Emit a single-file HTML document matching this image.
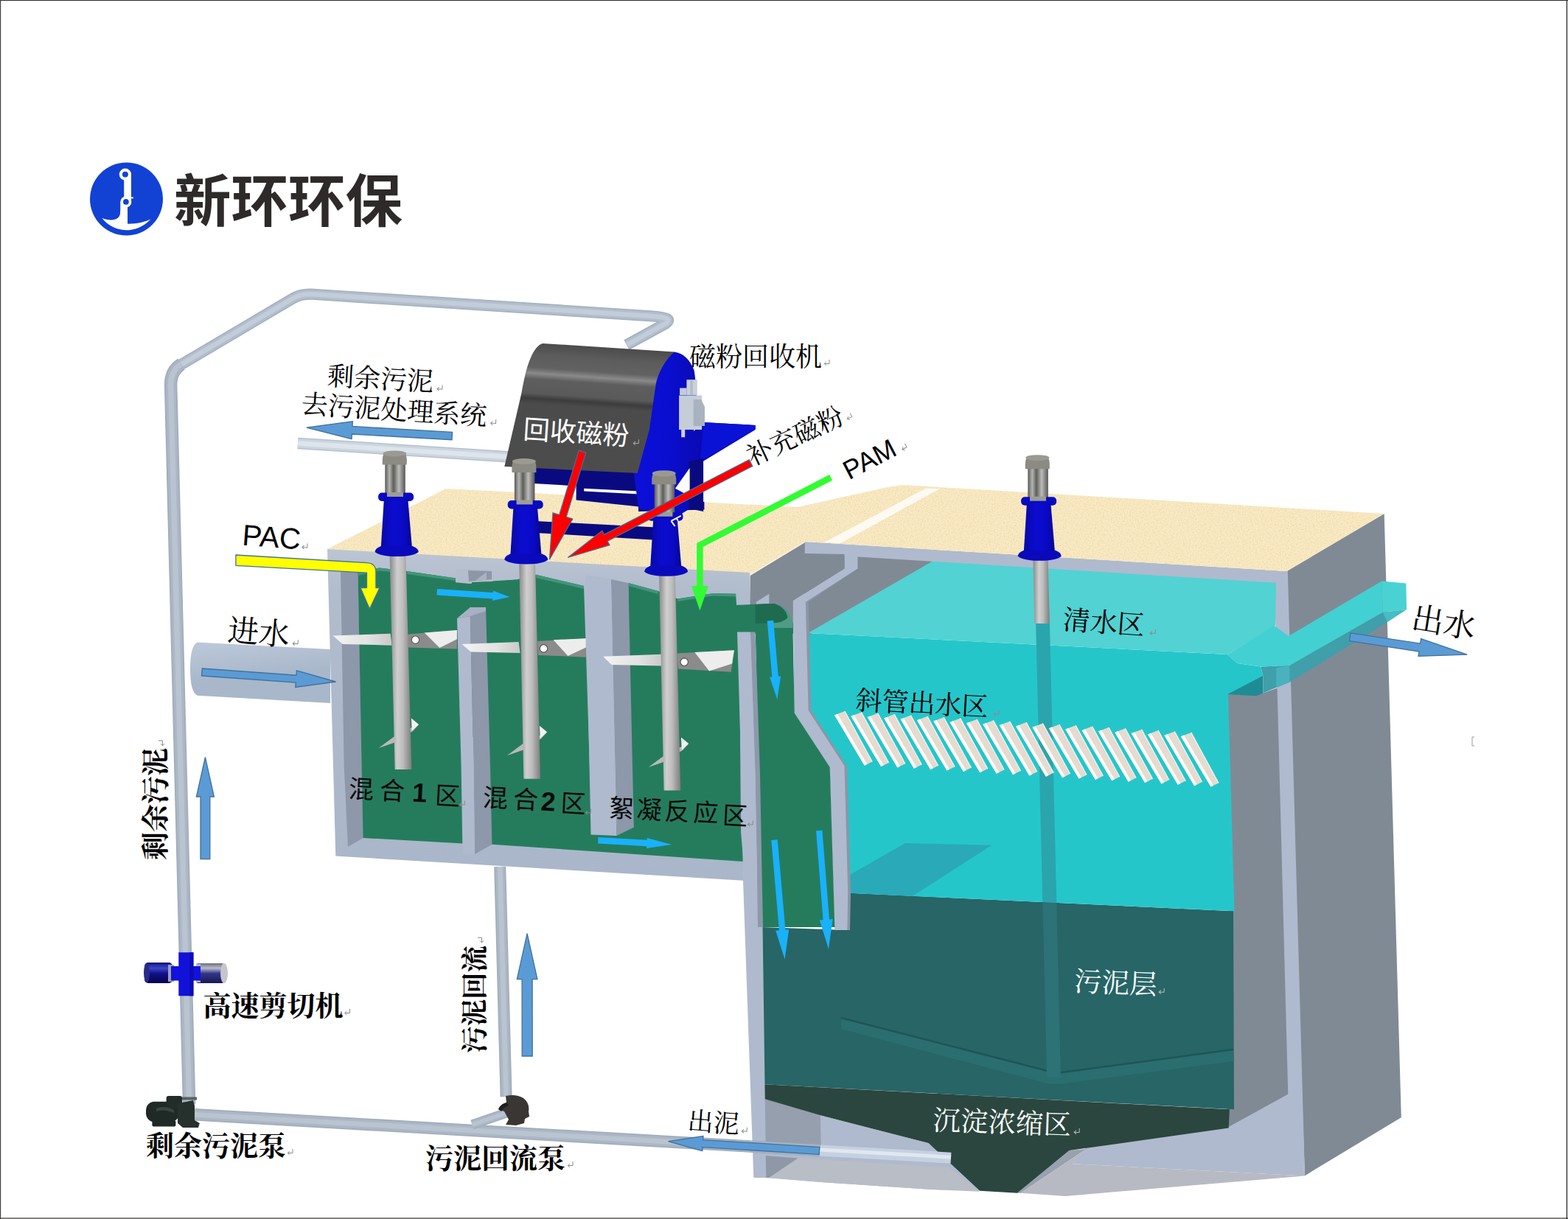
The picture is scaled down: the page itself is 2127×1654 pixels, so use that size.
<!DOCTYPE html>
<html><head><meta charset="utf-8"><title>diagram</title>
<style>html,body{margin:0;padding:0;background:#fff;}body{width:2127px;height:1654px;overflow:hidden;font-family:"Liberation Sans",sans-serif;}svg{display:block;}</style>
</head><body>
<svg xmlns="http://www.w3.org/2000/svg" width="2127" height="1654" viewBox="0 0 2127 1654">
<defs><linearGradient id="gInlet" gradientUnits="userSpaceOnUse" x1="0" y1="872" x2="8" y2="952"><stop offset="0" stop-color="#c8d2df"/><stop offset="0.4" stop-color="#bac7d8"/><stop offset="1" stop-color="#a8b7ca"/></linearGradient>
<linearGradient id="gSand" gradientUnits="userSpaceOnUse" x1="0" y1="655" x2="40" y2="790"><stop offset="0" stop-color="#fdf8e8"/><stop offset="0.35" stop-color="#faf0d4"/><stop offset="1" stop-color="#f8eac6"/></linearGradient>
<filter id="fNoise" x="0" y="0" width="100%" height="100%" color-interpolation-filters="sRGB"><feTurbulence type="fractalNoise" baseFrequency="0.55" numOctaves="2" seed="4" result="t"/><feColorMatrix in="t" type="matrix" values="0 0 0 0 0.93  0 0 0 0 0.80  0 0 0 0 0.52  0 0 0 1.5 -0.68"/><feComposite operator="in" in2="SourceGraphic"/></filter>
<linearGradient id="gBody" gradientUnits="userSpaceOnUse" x1="0" y1="745" x2="0" y2="1190"><stop offset="0" stop-color="#bcc5d3"/><stop offset="0.12" stop-color="#b1bccd"/><stop offset="1" stop-color="#aab6c9"/></linearGradient>
<linearGradient id="gBlade" gradientUnits="objectBoundingBox" x1="0" y1="0" x2="1" y2="0"><stop offset="0" stop-color="#f4f4f4"/><stop offset="0.6" stop-color="#e2e2e2"/><stop offset="1" stop-color="#c9c9c9"/></linearGradient>
<linearGradient id="gDisc" gradientUnits="userSpaceOnUse" x1="860" y1="0" x2="950" y2="0"><stop offset="0" stop-color="#0c10d8"/><stop offset="0.5" stop-color="#0a0ed0"/><stop offset="1" stop-color="#0a0ab4"/></linearGradient>
<linearGradient id="gDrum" gradientUnits="userSpaceOnUse" x1="760" y1="466" x2="748" y2="640"><stop offset="0" stop-color="#4a4a4a"/><stop offset="0.1" stop-color="#5c5c5c"/><stop offset="0.2" stop-color="#626262"/><stop offset="0.245" stop-color="#8a8a8a"/><stop offset="0.29" stop-color="#5e5e5e"/><stop offset="0.4" stop-color="#5a5a5a"/><stop offset="0.44" stop-color="#3c3c3c"/><stop offset="0.48" stop-color="#4b4b4b"/><stop offset="1" stop-color="#4c4c4c"/></linearGradient>
<linearGradient id="gShaft" gradientUnits="objectBoundingBox" x1="0" y1="0" x2="1" y2="0"><stop offset="0" stop-color="#8a8a8a"/><stop offset="0.35" stop-color="#cfcfcf"/><stop offset="0.6" stop-color="#bdbdbd"/><stop offset="1" stop-color="#7d7d7d"/></linearGradient>
<linearGradient id="gMotor" gradientUnits="objectBoundingBox" x1="0" y1="0" x2="1" y2="0"><stop offset="0" stop-color="#5a5a58"/><stop offset="0.22" stop-color="#b4b4b2"/><stop offset="0.42" stop-color="#5e5e58"/><stop offset="0.68" stop-color="#bcbcba"/><stop offset="1" stop-color="#555553"/></linearGradient>
<linearGradient id="gCone" gradientUnits="objectBoundingBox" x1="0" y1="0" x2="1" y2="0"><stop offset="0" stop-color="#0808a8"/><stop offset="0.4" stop-color="#0c0cd0"/><stop offset="0.75" stop-color="#0a0ac4"/><stop offset="1" stop-color="#06068e"/></linearGradient>
<linearGradient id="gShL" gradientUnits="userSpaceOnUse" x1="0" y1="1305" x2="0" y2="1334"><stop offset="0" stop-color="#0a0a70"/><stop offset="0.3" stop-color="#3a48c8"/><stop offset="0.55" stop-color="#10108a"/><stop offset="1" stop-color="#05054a"/></linearGradient>
<linearGradient id="gShR" gradientUnits="userSpaceOnUse" x1="0" y1="1305" x2="0" y2="1334"><stop offset="0" stop-color="#55586a"/><stop offset="0.3" stop-color="#b8bcc8"/><stop offset="0.55" stop-color="#30348a"/><stop offset="1" stop-color="#1a1a50"/></linearGradient></defs>
<rect x="0" y="0" width="2127" height="1654" fill="#fff"/>
<rect x="0" y="1652" width="2127" height="2" fill="#858282"/>
<rect x="0" y="0" width="2127" height="1" fill="#2a2a2a"/>
<rect x="0" y="0" width="1.2" height="1654" fill="#444"/>
<rect x="2124.8" y="0" width="1.3" height="1654" fill="#2a2a2a"/>
<circle cx="171.5" cy="270" r="49.5" fill="#1242d4"/>
<g transform="translate(115,215) scale(0.06653)" fill="#fff"><circle cx="825" cy="325" r="122"/><rect x="800" y="325" width="146" height="560"/><rect x="940" y="788" width="50" height="28"/><circle cx="840" cy="885" r="112"/><rect x="726" y="885" width="146" height="440"/><path d="M350,1215 C470,1265 600,1275 680,1210 C720,1170 726,1120 726,1060 L872,1060 L872,1332 C1050,1335 1220,1300 1345,1235 C1200,1400 1000,1462 845,1462 C690,1462 490,1400 350,1215 Z"/><circle cx="825" cy="325" r="60" fill="#1242d4"/><circle cx="840" cy="885" r="58" fill="#1242d4"/></g>
<text transform="translate(236,300.5)" font-family="&quot;Liberation Sans&quot;, &quot;Noto Sans CJK SC&quot;, sans-serif" font-size="77.5" font-weight="bold" fill="#2e2a2a">新环环保</text>
<polygon points="1745.6,775 1877.7,697 1900.8,1516.2 1770,1595.2 1766,1485" fill="#808a95" />
<polygon points="1664,942 1713.3,940.5 1733.5,933 1749.8,1485.2 1665,1532 1665,1504 1672,1504" fill="#808a95" />
<polygon points="1474,1556 1666.7,1529 1748.4,1484 1770.1,1595.4 1455.1,1579.2" fill="#afbace" />
<polygon points="1450.4,1561.1 1474,1558.8 1384.6,1618.7 1380,1618.7" fill="#98a1b0" />
<polygon points="1384.6,1618.7 1474,1558.8 1455.1,1579.2 1770.1,1595.4 1445.7,1622.9" fill="#b7bac2" />
<polygon points="1036.7,1489 1112.8,1513.3 1259.5,1551 1329.1,1615.8 1263.3,1614 1113.8,1604 1038.6,1598" fill="#afbace" />
<polygon points="1036.7,1489 1112.8,1513.3 1113.8,1560 1037.5,1555" fill="#959fae" />
<polygon points="1037.5,1568 1082.7,1571.6 1043.3,1598 1038.6,1598" fill="#8f98a7" />
<polygon points="1082.7,1571.6 1287.7,1583.9 1329.1,1616.8 1263.3,1614 1113.8,1604 1043.3,1598" fill="#b9bdc6" />
<polygon points="1728.3,775 1746.8,775 1770,1595.2 1747.3,1485.2" fill="#afbace" />
<polygon points="1033.6,1258 1149.3,1262 1149.3,1211.6 1673,1236.2 1674,1505.3 1032.9,1471" fill="#276567" />
<polygon points="1140.8,1381 1420,1452.7 1437,1455.6 1673,1424 1673.5,1440 1437,1471 1420,1470 1140.8,1396" fill="#2b6e70" />
<path d="M1140.8,1381 L1420,1452.7 M1437,1455.6 L1673,1424" stroke="#1f5558" stroke-width="2.5" fill="none"/>
<polygon points="1032.9,1471 1667.9,1505.3 1666.7,1530.5 1450.4,1561.1 1380,1618.7 1329.1,1615.8 1259.5,1551 1112.8,1513.3 1032.9,1489.8" fill="#2b463e" />
<polygon points="1096,858.9 1665.1,887.9 1678.7,899.9 1710.3,904.4 1713.3,916.5 1666,942 1674.5,1236.2 1146,1211.5 1146,1040 1142,1039.2 1096,963.9" fill="#25c6ca" />
<polygon points="1151,1188 1228.2,1143.9 1345.3,1146.7 1238,1215.8 1150,1211.6" fill="#2aa9b9" />
<polygon points="1092,740 1272,758 1267,763.2 1098,861 1092,862" fill="#808a95" />
<polygon points="1265.8,761 1731,789 1730,848.8 1665.1,887.9 1096,858.9" fill="#52d2d3" />
<polygon points="1091.9,735 1745.6,775 1747.2,790 1729.8,790.8 1091.9,751" fill="#afbace" />
<polygon points="1665.1,942 1713.3,916.5 1713.3,940.5 1704.2,944.3" fill="#1e8c95" />
<polygon points="1710.3,904.4 1749.4,902.9 1875.8,830.7 1881.8,844.2 1749.4,925.5 1731.3,933 1713.3,940.5 1713.3,916.5" fill="#3f9fab" />
<polygon points="1731.3,906 1749.4,902.9 1749.4,925.5 1731.3,933" fill="#49b2be" />
<polygon points="1665.1,887.9 1728.3,848.8 1747.9,863.1 1874.3,788.6 1875.8,830.7 1749.4,902.9 1710.3,904.4 1678.7,899.9" fill="#43d0d2" />
<polygon points="1874.3,788.6 1907.4,791.6 1908.1,827 1875.8,830.7" fill="#4ad2d2" />
<polygon points="1875.8,830.7 1908.1,827 1881.8,844.2" fill="#46bcc4" />
<polygon points="1163.4,771.6 1096.6,816.8 1100.4,963.9 1149.2,1040 1154,1211 1153,1262 1132.3,1262 1125.7,1041 1077.8,967.7 1075.9,814.9 1145.5,771.6" fill="#8c96a6" />
<polygon points="1145.5,751 1163.4,752 1163.4,771.6 1092.8,816.8 1096.6,963.9 1145.5,1039.2 1150.2,1211 1149.3,1262 1132.3,1262 1125.7,1041 1077.8,967.7 1075.9,814.9 1145.5,771.6" fill="#afbace" />
<path d="M240,498 L398,404.500 Q410,398 425,399.3 L885,429 Q915,431 903,439 L850,468" fill="none" stroke="#a3b0c0" stroke-width="15.2" stroke-linecap="butt" stroke-linejoin="round"/>
<path d="M240,498 L398,404.500 Q410,398 425,399.3 L885,429 Q915,431 903,439 L850,468" fill="none" stroke="#b2becc" stroke-width="12.16" stroke-linecap="butt" stroke-linejoin="round"/>
<path d="M240,498 L398,404.500 Q410,398 425,399.3 L885,429 Q915,431 903,439 L850,468" fill="none" stroke="#c3cdd9" stroke-width="6.384" stroke-linecap="butt" stroke-linejoin="round"/>
<path d="M256.6,1498 L232.6,560 L231.6,522 Q231.6,503 246,494" fill="none" stroke="#a0adbc" stroke-width="17.5" stroke-linecap="butt" stroke-linejoin="round"/>
<path d="M256.6,1498 L232.6,560 L231.6,522 Q231.6,503 246,494" fill="none" stroke="#abb7c5" stroke-width="14" stroke-linecap="butt" stroke-linejoin="round"/>
<path d="M256.6,1498 L232.6,560 L231.6,522 Q231.6,503 246,494" fill="none" stroke="#b9c4d0" stroke-width="7.35" stroke-linecap="butt" stroke-linejoin="round"/>
<path d="M404,601.5 L700,620.5" fill="none" stroke="#b6c1ce" stroke-width="15.5" stroke-linecap="butt" stroke-linejoin="round"/>
<path d="M404,601.5 L700,620.5" fill="none" stroke="#ccd5df" stroke-width="12.4" stroke-linecap="butt" stroke-linejoin="round"/>
<path d="M404,601.5 L700,620.5" fill="none" stroke="#dde4ec" stroke-width="6.51" stroke-linecap="butt" stroke-linejoin="round"/>
<path d="M678.2,1176 L686.6,1488" fill="none" stroke="#a0adbc" stroke-width="16" stroke-linecap="butt" stroke-linejoin="round"/>
<path d="M678.2,1176 L686.6,1488" fill="none" stroke="#abb7c5" stroke-width="12.8" stroke-linecap="butt" stroke-linejoin="round"/>
<path d="M678.2,1176 L686.6,1488" fill="none" stroke="#b9c4d0" stroke-width="6.72" stroke-linecap="butt" stroke-linejoin="round"/>
<path d="M268,871.4 L448,881 L448,954 L268,943.7 Q258,940 258,907.5 Q258,875 268,871.4 Z" fill="url(#gInlet)"/>
<polygon points="444,745 605,663 1082,688 1204,661 1225,658 1877.7,697 1745.6,775 1091.9,735 1017,780" fill="url(#gSand)" />
<polygon points="444,745 605,663 1082,688 1204,661 1225,658 1877.7,697 1745.6,775 1091.9,735 1017,780" fill="#000" filter="url(#fNoise)"/>
<polygon points="1118,736 1255,663 1275,663 1140,737" fill="#fdfaf2" />
<polygon points="444,745 1017,776.9 1020,900 1012,1195 455.3,1161.5" fill="url(#gBody)" />
<polygon points="1017.6,781 1091.9,736 1091.9,751 1145.5,752 1145.5,771.6 1075.9,814.9 1075.9,860 1017.6,860" fill="#808a95" />
<polygon points="1025.4,817.1 1043.3,805.8 1043.3,819 1026.4,820" fill="#afbace" />
<polygon points="1001.6,900 1027,900 1033.6,1189 1039.2,1598 1022.3,1598 1008,1195" fill="#afbace" />
<polygon points="462,775 485.5,777 491,1040 492.5,1137 472,1149 466.7,1040" fill="#8d98aa" />
<polygon points="485.5,777 514.6,770.4 529.7,772.3 552.2,775.1 618,784.5 618,790.2 636.9,792 700.8,786.4 703,1000 640,1000 628,1144.4 492.5,1137" fill="#257c5d" />
<polygon points="640,790 700.8,786.4 727.1,779.8 792,794.9 803,1134 660,1134" fill="#257c5d" />
<polygon points="852.4,791 892.8,802 919.2,812.4 968,804.9 998.1,805.8 999.1,820.9 1024.5,820 1050.8,819 1067.7,830.3 1075.3,845 1075.9,860 1003,860 1005,1134 852.4,1134" fill="#257c5d" />
<polygon points="655,1118 1004,1118 1008.5,1169 667.4,1145.8 655,1140" fill="#257c5d" />
<polygon points="485.5,777 514.6,770.4 529.7,772.3 529.7,776 514.6,774.5 485.5,781" fill="#44957a" />
<polygon points="552.2,775.1 618,784.5 618,788 552.2,779" fill="#44957a" />
<polygon points="727.1,779.8 792,794.9 792,799 727.1,784" fill="#44957a" />
<polygon points="852.4,791 892.8,802 892.8,806 852.4,795" fill="#44957a" />
<polygon points="919.2,812.4 968,804.9 998.1,805.8 998.1,809.5 968,808.5 919.2,816" fill="#44957a" />
<polygon points="1024.5,845 1075.3,845 1077.8,967.7 1125.7,1041 1132.3,1258 1033.6,1258" fill="#257c5d" />
<path d="M1024.5,820 L1050.8,819 Q1066,824 1068.5,838 Q1062,846 1044,845.500 L1024.5,846 Z" fill="#1f6b50" />
<path d="M1050.8,819 Q1070,822 1075.3,845 L1075.3,852 L1044,852 L1044,845.500 Q1062,846 1068.5,838 Q1066,824 1050.8,819 Z" fill="#4f9c84" />
<polygon points="1017.9,857.5 1024.5,857.5 1031,1050 1033.6,1189 1035,1258 1028,1258 1027,1189 1024.5,1050" fill="#8d98aa" />
<polygon points="1000,857.5 1017.9,857.5 1024.5,1050 1027,1189 1008,1195 1005.7,1050" fill="#afbace" />
<polygon points="618.9,772 668.3,773.4 668.3,789 618.9,790" fill="#b4bdcc" />
<polygon points="635,774 667,775 667,786 636,789" fill="#8e97a7" />
<polygon points="645,788 660,776 660,787" fill="#a9b2c2" />
<polygon points="637.8,836 637.8,824 659,824 665,1040 667.4,1145.8 644,1159 642.5,1040" fill="#8d98aa" />
<polygon points="620,839 637.8,824 659,824 659,829 637.8,836" fill="#a7b1c3" />
<polygon points="620,839 637.8,836 642.5,1040 644,1159 627.5,1158 625.6,1040" fill="#afbace" />
<polygon points="828.9,786 852.4,791 859.8,1122.4 836.5,1134" fill="#8d98aa" />
<polygon points="794.1,780 828.9,786 836.5,1134 801.5,1132.6" fill="#afbace" />
<polygon points="451.6,862.6 529.7,859.8 531.6,875.7 464.8,873.9" fill="url(#gBlade)" />
<polygon points="552.2,860.7 619.9,855.1 619.9,880.4 553.2,878.6" fill="#8b8b8b" />
<polygon points="575.7,858.4 619.9,855.1 619.9,867.3 596.4,878.9" fill="#ededed" />
<circle cx="563.5" cy="868.2" r="5.2" fill="#fff" stroke="#555" stroke-width="1.2"/>
<polygon points="626.5,873.9 703.6,871 705.5,886.1 638.7,884.6" fill="url(#gBlade)" />
<polygon points="729,870.1 794.8,866.3 794.8,891.7 730,888.9" fill="#8b8b8b" />
<polygon points="750.6,868.2 794.8,866.3 794.8,878.6 770.4,889.9" fill="#ededed" />
<circle cx="737.5" cy="879.9" r="5.2" fill="#fff" stroke="#555" stroke-width="1.2"/>
<polygon points="818.2,890.7 897.2,887.8 898.6,903.4 829.5,901.9" fill="url(#gBlade)" />
<polygon points="918.4,886.4 995.9,882.2 991.7,911.8 919.8,907.6" fill="#8b8b8b" />
<polygon points="942.3,885 995.9,882.2 993.1,900.5 962.1,910.4" fill="#ededed" />
<circle cx="928.2" cy="898.3" r="5.2" fill="#fff" stroke="#555" stroke-width="1.2"/>
<polygon points="513.7,1014.9 542.8,993.3 557.9,987.6 568.2,982.9 559.8,992.3 550.4,997 535.3,1007.4" fill="#b9b9b9" />
<polygon points="557.9,974.5 568.2,982.9 558.8,991.4" fill="#f2f2f2" />
<polygon points="687.7,1025.2 716.8,1003.6 731.9,997.9 742.2,993.2 733.8,1002.6 724.4,1007.3 709.3,1017.7" fill="#b9b9b9" />
<polygon points="731.9,984.8 742.2,993.2 732.8,1001.7" fill="#f2f2f2" />
<polygon points="879.7,1040.9 908.8,1019.3 923.9,1013.6 934.2,1008.9 925.8,1018.3 916.4,1023 901.3,1033.4" fill="#b9b9b9" />
<polygon points="923.9,1000.5 934.2,1008.9 924.8,1017.4" fill="#f2f2f2" />
<polygon points="723.7,630 781.6,633 781.6,659.4 723.7,656" fill="#0a0a80" />
<polygon points="781.6,633 869.8,638 869.8,687.7 781.6,678.5" fill="#0a0a80" />
<polygon points="792.2,662.7 867.2,666.6 867.2,670.6 792.2,666.6" fill="#fff" />
<polygon points="866,672 935.6,678.5 955.4,681 955.4,691.6 866,694" fill="#0a0a80" />
<polygon points="726.5,707 890,715.6 890,732.7 726.5,723" fill="#0a0a80" />
<path d="M914.8,477.5 C927,479 936,488 941.6,502.5 C946,530 946,560 941,585 L954,573 L1024.7,577 L1024.7,583 L952,627 L952,690 L936,690 L920,700 L866,690 L860,642 L874,583 L884,520 L897,492 L908,479 Z" fill="url(#gDisc)" />
<polygon points="954.1,573.1 1024.7,576.9 1024.7,582 950,626" fill="#0a12d6" />
<polygon points="934.4,626 954.1,622 954.1,694 934.4,690" fill="#0a0a80" />
<polygon points="915.9,662.7 935.6,635 935.6,673.2" fill="#fff" />
<path d="M684.3,633 L707.5,533 C713,500 722,470 736.1,465.9 L914.8,477.5 C900,490 892,510 889.8,520.4 L880.8,583 L864.7,642 Z" fill="url(#gDrum)" />
<rect x="931.4" y="515.2" width="14.4" height="21" fill="#c9d1da"/>
<rect x="922.100" y="526.5" width="9.5" height="9.5" fill="#c3ccd6"/>
<rect x="921.100" y="536.5" width="31" height="46.5" fill="#c5ced8"/>
<path d="M940.6,542 L951,542 L956,552 L956,578 L940.6,578 Z" fill="#a9b3bf"/>
<rect x="936" y="515.2" width="4" height="21" fill="#b4bdc8"/>
<rect x="924.2" y="583" width="5" height="10.3" fill="#c9d1da"/>
<polygon points="528.6,752 550.4,752 558.3,1044 535.7,1044" fill="url(#gShaft)" />
<rect x="522.3" y="627" width="27.5" height="46" fill="url(#gMotor)"/>
<path d="M518.8,623.5 q0,-9 6,-11 h21 q6,2 6,11 v7 h-33 z" fill="#8b8b84"/>
<ellipse cx="535.3" cy="615.5" rx="16" ry="4" fill="#9a9a92"/>
<rect x="513.1" y="668.5" width="48" height="11.5" rx="5" fill="#0a0ac0"/>
<polygon points="520.9,677 553.3,677 559,744 516.7,744" fill="url(#gCone)" />
<path d="M516.7,741 q-8,3 -8,8 q8,6 29.500,6 q22,0 29.500,-6 q0,-5 -8,-8 z" fill="#0a0abc"/>
<rect x="525" y="668" width="22" height="6" fill="#9c9c98"/>
<polygon points="704.2,762.5 726,762.5 733,1056.8 710.4,1056.8" fill="url(#gShaft)" />
<rect x="697.9" y="637.5" width="27.5" height="46" fill="url(#gMotor)"/>
<path d="M694.4,634 q0,-9 6,-11 h21 q6,2 6,11 v7 h-33 z" fill="#8b8b84"/>
<ellipse cx="710.9" cy="626" rx="16" ry="4" fill="#9a9a92"/>
<rect x="688.7" y="679" width="48" height="11.5" rx="5" fill="#0a0ac0"/>
<polygon points="696.5,687.5 728.9,687.5 734.6,754.5 692.3,754.5" fill="url(#gCone)" />
<path d="M692.3,751.5 q-8,3 -8,8 q8,6 29.500,6 q22,0 29.500,-6 q0,-5 -8,-8 z" fill="#0a0abc"/>
<rect x="700.6" y="678.5" width="22" height="6" fill="#9c9c98"/>
<polygon points="894,778.8 915.8,778.8 923.2,1072.6 900.6,1072.6" fill="url(#gShaft)" />
<rect x="887.7" y="653.8" width="27.5" height="46" fill="url(#gMotor)"/>
<path d="M884.2,650.3 q0,-9 6,-11 h21 q6,2 6,11 v7 h-33 z" fill="#8b8b84"/>
<ellipse cx="900.7" cy="642.3" rx="16" ry="4" fill="#9a9a92"/>
<rect x="878.5" y="695.3" width="48" height="11.5" rx="5" fill="#0a0ac0"/>
<polygon points="886.3,703.8 918.7,703.8 924.4,770.8 882.1,770.8" fill="url(#gCone)" />
<path d="M882.1,767.8 q-8,3 -8,8 q8,6 29.500,6 q22,0 29.500,-6 q0,-5 -8,-8 z" fill="#0a0abc"/>
<rect x="890.4" y="694.8" width="22" height="6" fill="#9c9c98"/>
<polygon points="1401.4,757.7 1421.6,757.7 1423.9,846 1403.3,846" fill="url(#gShaft)" />
<polygon points="1405.1,846 1423.9,846 1433.3,1225 1414.3,1224" fill="#2aa5ad" />
<polygon points="1414.3,1224 1433.3,1225 1439,1462 1420,1462" fill="#2c7276" />
<rect x="1394.3" y="632.7" width="27.5" height="46" fill="url(#gMotor)"/>
<path d="M1390.8,629.2 q0,-9 6,-11 h21 q6,2 6,11 v7 h-33 z" fill="#8b8b84"/>
<ellipse cx="1407.3" cy="621.2" rx="16" ry="4" fill="#9a9a92"/>
<rect x="1385.1" y="674.2" width="48" height="11.5" rx="5" fill="#0a0ac0"/>
<polygon points="1392.9,682.7 1425.3,682.7 1431,749.7 1388.7,749.7" fill="url(#gCone)" />
<path d="M1388.7,746.7 q-8,3 -8,8 q8,6 29.500,6 q22,0 29.500,-6 q0,-5 -8,-8 z" fill="#0a0abc"/>
<rect x="1397" y="673.7" width="22" height="6" fill="#9c9c98"/>
<path d="M910.4,706.8 L915.6,714 M910.4,706.8 L923.8,699.9 M917.9,703.7 L919.6,706.5" stroke="#fff" stroke-width="2" fill="none"/>
<polygon points="1132,970.3 1146,965 1183.2,1033.5 1172.7,1038.7" fill="#e5dbd1" />
<polygon points="1132,970.3 1136.2,968.7 1176.2,1037 1172.7,1038.7" fill="#ffffff" />
<line x1="1146" y1="965" x2="1183.2" y2="1033.5" stroke="#f8f6f2" stroke-width="1.2" />
<polygon points="1154.4,971.7 1168.4,966.4 1205.6,1034.9 1195.1,1040.1" fill="#e5dbd1" />
<polygon points="1154.4,971.7 1158.6,970.1 1198.6,1038.4 1195.1,1040.1" fill="#ffffff" />
<line x1="1168.37" y1="966.376" x2="1205.57" y2="1034.88" stroke="#f8f6f2" stroke-width="1.2" />
<polygon points="1176.7,973.1 1190.7,967.8 1227.9,1036.3 1217.4,1041.5" fill="#e5dbd1" />
<polygon points="1176.7,973.1 1180.9,971.5 1220.9,1039.8 1217.4,1041.5" fill="#ffffff" />
<line x1="1190.74" y1="967.752" x2="1227.94" y2="1036.25" stroke="#f8f6f2" stroke-width="1.2" />
<polygon points="1199.1,974.4 1213.1,969.1 1250.3,1037.6 1239.8,1042.8" fill="#e5dbd1" />
<polygon points="1199.1,974.4 1203.3,972.8 1243.3,1041.1 1239.8,1042.8" fill="#ffffff" />
<line x1="1213.11" y1="969.128" x2="1250.31" y2="1037.63" stroke="#f8f6f2" stroke-width="1.2" />
<polygon points="1221.5,975.8 1235.5,970.5 1272.7,1039 1262.2,1044.2" fill="#e5dbd1" />
<polygon points="1221.5,975.8 1225.7,974.2 1265.7,1042.5 1262.2,1044.2" fill="#ffffff" />
<line x1="1235.48" y1="970.504" x2="1272.68" y2="1039" stroke="#f8f6f2" stroke-width="1.2" />
<polygon points="1243.8,977.2 1257.8,971.9 1295,1040.4 1284.5,1045.6" fill="#e5dbd1" />
<polygon points="1243.8,977.2 1248,975.6 1288,1043.9 1284.5,1045.6" fill="#ffffff" />
<line x1="1257.85" y1="971.88" x2="1295.05" y2="1040.38" stroke="#f8f6f2" stroke-width="1.2" />
<polygon points="1266.2,978.6 1280.2,973.3 1317.4,1041.8 1306.9,1047" fill="#e5dbd1" />
<polygon points="1266.2,978.6 1270.4,977 1310.4,1045.3 1306.9,1047" fill="#ffffff" />
<line x1="1280.22" y1="973.256" x2="1317.42" y2="1041.76" stroke="#f8f6f2" stroke-width="1.2" />
<polygon points="1288.6,979.9 1302.6,974.6 1339.8,1043.1 1329.3,1048.3" fill="#e5dbd1" />
<polygon points="1288.6,979.9 1292.8,978.3 1332.8,1046.6 1329.3,1048.3" fill="#ffffff" />
<line x1="1302.59" y1="974.632" x2="1339.79" y2="1043.13" stroke="#f8f6f2" stroke-width="1.2" />
<polygon points="1311,981.3 1325,976 1362.2,1044.5 1351.7,1049.7" fill="#e5dbd1" />
<polygon points="1311,981.3 1315.2,979.7 1355.2,1048 1351.7,1049.7" fill="#ffffff" />
<line x1="1324.96" y1="976.008" x2="1362.16" y2="1044.51" stroke="#f8f6f2" stroke-width="1.2" />
<polygon points="1333.3,982.7 1347.3,977.4 1384.5,1045.9 1374,1051.1" fill="#e5dbd1" />
<polygon points="1333.3,982.7 1337.5,981.1 1377.5,1049.4 1374,1051.1" fill="#ffffff" />
<line x1="1347.33" y1="977.384" x2="1384.53" y2="1045.88" stroke="#f8f6f2" stroke-width="1.2" />
<polygon points="1355.7,984.1 1369.7,978.8 1406.9,1047.3 1396.4,1052.5" fill="#e5dbd1" />
<polygon points="1355.7,984.1 1359.9,982.5 1399.9,1050.8 1396.4,1052.5" fill="#ffffff" />
<line x1="1369.7" y1="978.76" x2="1406.9" y2="1047.26" stroke="#f8f6f2" stroke-width="1.2" />
<polygon points="1378.1,985.4 1392.1,980.1 1429.3,1048.6 1418.8,1053.8" fill="#e5dbd1" />
<polygon points="1378.1,985.4 1382.3,983.8 1422.3,1052.1 1418.8,1053.8" fill="#ffffff" />
<line x1="1392.07" y1="980.136" x2="1429.27" y2="1048.64" stroke="#f8f6f2" stroke-width="1.2" />
<polygon points="1400.4,986.8 1414.4,981.5 1451.6,1050 1441.1,1055.2" fill="#e5dbd1" />
<polygon points="1400.4,986.8 1404.6,985.2 1444.6,1053.5 1441.1,1055.2" fill="#ffffff" />
<line x1="1414.44" y1="981.512" x2="1451.64" y2="1050.01" stroke="#f8f6f2" stroke-width="1.2" />
<polygon points="1422.8,988.2 1436.8,982.9 1474,1051.4 1463.5,1056.6" fill="#e5dbd1" />
<polygon points="1422.8,988.2 1427,986.6 1467,1054.9 1463.5,1056.6" fill="#ffffff" />
<line x1="1436.81" y1="982.888" x2="1474.01" y2="1051.39" stroke="#f8f6f2" stroke-width="1.2" />
<polygon points="1445.2,989.6 1459.2,984.3 1496.4,1052.8 1485.9,1058" fill="#e5dbd1" />
<polygon points="1445.2,989.6 1449.4,988 1489.4,1056.3 1485.9,1058" fill="#ffffff" />
<line x1="1459.18" y1="984.264" x2="1496.38" y2="1052.76" stroke="#f8f6f2" stroke-width="1.2" />
<polygon points="1467.5,990.9 1481.5,985.6 1518.8,1054.1 1508.2,1059.3" fill="#e5dbd1" />
<polygon points="1467.5,990.9 1471.8,989.3 1511.8,1057.6 1508.2,1059.3" fill="#ffffff" />
<line x1="1481.55" y1="985.64" x2="1518.75" y2="1054.14" stroke="#f8f6f2" stroke-width="1.2" />
<polygon points="1489.9,992.3 1503.9,987 1541.1,1055.5 1530.6,1060.7" fill="#e5dbd1" />
<polygon points="1489.9,992.3 1494.1,990.7 1534.1,1059 1530.6,1060.7" fill="#ffffff" />
<line x1="1503.92" y1="987.016" x2="1541.12" y2="1055.52" stroke="#f8f6f2" stroke-width="1.2" />
<polygon points="1512.3,993.7 1526.3,988.4 1563.5,1056.9 1553,1062.1" fill="#e5dbd1" />
<polygon points="1512.3,993.7 1516.5,992.1 1556.5,1060.4 1553,1062.1" fill="#ffffff" />
<line x1="1526.29" y1="988.392" x2="1563.49" y2="1056.89" stroke="#f8f6f2" stroke-width="1.2" />
<polygon points="1534.7,995.1 1548.7,989.8 1585.9,1058.3 1575.4,1063.5" fill="#e5dbd1" />
<polygon points="1534.7,995.1 1538.9,993.5 1578.9,1061.8 1575.4,1063.5" fill="#ffffff" />
<line x1="1548.66" y1="989.768" x2="1585.86" y2="1058.27" stroke="#f8f6f2" stroke-width="1.2" />
<polygon points="1557,996.4 1571,991.1 1608.2,1059.6 1597.7,1064.8" fill="#e5dbd1" />
<polygon points="1557,996.4 1561.2,994.8 1601.2,1063.1 1597.7,1064.8" fill="#ffffff" />
<line x1="1571.03" y1="991.144" x2="1608.23" y2="1059.64" stroke="#f8f6f2" stroke-width="1.2" />
<polygon points="1579.4,997.8 1593.4,992.5 1630.6,1061 1620.1,1066.2" fill="#e5dbd1" />
<polygon points="1579.4,997.8 1583.6,996.2 1623.6,1064.5 1620.1,1066.2" fill="#ffffff" />
<line x1="1593.4" y1="992.52" x2="1630.6" y2="1061.02" stroke="#f8f6f2" stroke-width="1.2" />
<polygon points="1601.8,999.2 1615.8,993.9 1653,1062.4 1642.5,1067.6" fill="#e5dbd1" />
<polygon points="1601.8,999.2 1606,997.6 1646,1065.9 1642.5,1067.6" fill="#ffffff" />
<line x1="1615.77" y1="993.896" x2="1652.97" y2="1062.4" stroke="#f8f6f2" stroke-width="1.2" />
<path d="M1112,1560.93 L1290,1571.13" stroke="#c6d1e0" stroke-width="15" fill="none"/>
<path d="M1112,1559.93 L1290,1570.13" stroke="#dfe7f1" stroke-width="5" fill="none"/>
<path d="M264,1512.34 L1112,1560.93" fill="none" stroke="#a0adbc" stroke-width="16.5" stroke-linecap="butt" stroke-linejoin="round"/>
<path d="M264,1512.34 L1112,1560.93" fill="none" stroke="#abb7c5" stroke-width="13.2" stroke-linecap="butt" stroke-linejoin="round"/>
<path d="M264,1512.34 L1112,1560.93" fill="none" stroke="#b9c4d0" stroke-width="6.93" stroke-linecap="butt" stroke-linejoin="round"/>
<path d="M640.6,1526 L690,1509" fill="none" stroke="#a0adbc" stroke-width="13" stroke-linecap="butt" stroke-linejoin="round"/>
<path d="M640.6,1526 L690,1509" fill="none" stroke="#abb7c5" stroke-width="10.4" stroke-linecap="butt" stroke-linejoin="round"/>
<path d="M640.6,1526 L690,1509" fill="none" stroke="#b9c4d0" stroke-width="5.46" stroke-linecap="butt" stroke-linejoin="round"/>
<path d="M686,1487 Q700,1484 710,1490 Q719,1497 717,1508 L718,1515 L712,1518 L711,1524 L700,1527 L686,1526 L690,1519 L684,1508 L676,1505 Q679,1498 687,1496 Z" fill="#3a3633" />
<path d="M676,1505 Q680,1497 688,1496 L690,1500 Q683,1502 680,1508 Z" fill="#1f1f1d" />
<rect x="198" y="1494.8" width="45" height="27.5" rx="11" ry="12" fill="#1f2a26"/>
<rect x="225.6" y="1487" width="21.5" height="17" rx="3" fill="#222d29"/>
<rect x="206.4" y="1520.5" width="32" height="8" rx="2" fill="#1f2925"/>
<path d="M241,1497 L262,1493 L264,1500 L264,1520 L270.8,1524 L269,1530 L248,1530 L241,1524 Z" fill="#26312d"/>
<rect x="247" y="1488.500" width="20" height="4" fill="#59635f"/>
<path d="M212,1504 Q222,1499 236,1506 L236,1510 Q222,1504 212,1508 Z" fill="#3a4541"/>
<rect x="196" y="1306" width="38" height="28" rx="5" fill="url(#gShL)"/>
<ellipse cx="199" cy="1320" rx="4" ry="13" fill="#2a2a8a"/>
<rect x="228" y="1309" width="8" height="23" fill="#9aa0b4"/>
<rect x="266" y="1307" width="38" height="27" rx="3" fill="url(#gShR)"/>
<ellipse cx="304" cy="1320.500" rx="5" ry="13.500" fill="#c4c6cc"/>
<rect x="266" y="1308" width="6" height="25" fill="#b0b4c2"/>
<rect x="232" y="1311" width="40" height="19.500" fill="#1212dc"/>
<rect x="242.3" y="1292.3" width="20" height="59" fill="#1111d8"/>
<rect x="257.5" y="1292.3" width="5" height="59" fill="#0c0cb0"/>
<polygon points="613.6,586.3 478,578.5 478.4,571.8 415.8,580.2 477,595.7 477.4,589 613,596.7" fill="#5b9bd5" stroke="#41719c" stroke-width="1.3" stroke-linejoin="miter"/>
<polygon points="273.5,917 401.3,926.1 400.8,932.4 455.5,925 402.4,909.9 402,916.2 274.3,907" fill="#5b9bd5" stroke="#41719c" stroke-width="1.3" stroke-linejoin="miter"/>
<polygon points="284.8,1165.7 284.8,1081 290.4,1081 278.4,1027.5 266.4,1081 272,1081 272,1165.7" fill="#5b9bd5" stroke="#41719c" stroke-width="1.3" stroke-linejoin="miter"/>
<polygon points="722.2,1433 722.1,1328.6 728.9,1328.6 715.1,1266.6 701.3,1328.6 708.1,1328.6 708.2,1433" fill="#5b9bd5" stroke="#41719c" stroke-width="1.3" stroke-linejoin="miter"/>
<polygon points="1111.8,1556.4 953.6,1546.6 953.9,1541.6 906.4,1548.7 952.7,1561.6 953,1556.6 1111.2,1566.4" fill="#5b9bd5" stroke="#41719c" stroke-width="1.3" stroke-linejoin="miter"/>
<polygon points="1830.5,869.7 1925,884 1924,890.4 1990.1,888.2 1927.6,866.7 1926.6,873.1 1832.1,858.9" fill="#5b9bd5" stroke="#41719c" stroke-width="1.3" stroke-linejoin="miter"/>
<polygon points="592.4,807.5 668.2,812.6 668,815.1 691.4,809.9 668.9,801.6 668.7,804.1 593,799.1" fill="#19b1fa" />
<polygon points="811,1144.5 877.1,1148.3 877,1151.1 911.3,1146 877.8,1137.1 877.6,1139.8 811.4,1136.1" fill="#19b1fa" />
<polygon points="1040.7,842.6 1047.3,918.4 1044.1,918.7 1054.3,948.9 1059.1,917.4 1055.8,917.6 1049.1,841.8" fill="#19b1fa" />
<polygon points="1046.3,1140 1056.9,1262.3 1052.2,1262.7 1064.6,1301.8 1070.1,1261.2 1065.4,1261.6 1054.7,1139.2" fill="#19b1fa" />
<polygon points="1107,1127.3 1116.5,1248.2 1111.8,1248.5 1123.9,1287.7 1129.7,1247.1 1125,1247.5 1115.4,1126.7" fill="#19b1fa" />
<polygon points="785.2,611.1 758.7,698.5 750,695.9 745.4,759.3 776.8,704.1 768.2,701.4 794.8,614.1" fill="#ff0000" stroke="#41719c" stroke-width="1.2" stroke-linejoin="miter"/>
<polygon points="1016.2,623.7 819.5,725.4 816.8,720.1 770.3,756.5 826.9,739.6 824.1,734.3 1020.8,632.5" fill="#ff0000" stroke="#41719c" stroke-width="1.2" stroke-linejoin="miter"/>
<path d="M319.9,753 L498,763.7 Q509.9,764.4 509.9,776 L509.9,797.5 L515,797.5 L501.4,826.3 L489,797.5 L497.5,797.5 L497.5,777.2 L319.9,767.3 Z" fill="#ffff00" stroke="#41719c" stroke-width="1.3" stroke-linejoin="round"/>
<path d="M1127.1,647.9 L949.4,739.5 L949.4,797" fill="none" stroke="#33fb33" stroke-width="8.5" stroke-linejoin="miter"/>
<polygon points="938,795 960.8,795 949.4,828.4" fill="#33fb33" />
<text transform="translate(443.5,522.5) rotate(3.3)" font-family="&quot;Liberation Serif&quot;, &quot;Noto Serif CJK SC&quot;, serif" font-size="36" fill="#000">剩余污泥</text>
<path transform="translate(591.654,531.043) rotate(3.3)" d="M8,-9V-3.5H1.5M3.8,-6L1.2,-3.5L3.8,-1" fill="none" stroke="#8a8a8a" stroke-width="1"/>
<text transform="translate(408,560.5) rotate(3.8)" font-family="&quot;Liberation Serif&quot;, &quot;Noto Serif CJK SC&quot;, serif" font-size="36" fill="#000">去污泥处理系统</text>
<path transform="translate(664.235,577.519) rotate(3.8)" d="M8,-9V-3.5H1.5M3.8,-6L1.2,-3.5L3.8,-1" fill="none" stroke="#8a8a8a" stroke-width="1"/>
<text transform="translate(935,497)" font-family="&quot;Liberation Serif&quot;, &quot;Noto Serif CJK SC&quot;, serif" font-size="36" fill="#000">磁粉回收机</text>
<path transform="translate(1117,497)" d="M8,-9V-3.5H1.5M3.8,-6L1.2,-3.5L3.8,-1" fill="none" stroke="#8a8a8a" stroke-width="1"/>
<text transform="translate(709,595) rotate(3.7)" font-family="&quot;Liberation Sans&quot;, &quot;Noto Sans CJK SC&quot;, sans-serif" font-size="36" fill="#fff">回收磁粉</text>
<path transform="translate(857.889,604.628) rotate(3.7)" d="M8,-9V-3.5H1.5M3.8,-6L1.2,-3.5L3.8,-1" fill="none" stroke="#aaa" stroke-width="1"/>
<text transform="translate(1020.4,632.5) rotate(-25)" font-family="&quot;Liberation Serif&quot;, &quot;Noto Serif CJK SC&quot;, serif" font-size="35" fill="#000">补充磁粉</text>
<path transform="translate(1149.82,572.15) rotate(-25)" d="M8,-9V-3.5H1.5M3.8,-6L1.2,-3.5L3.8,-1" fill="none" stroke="#8a8a8a" stroke-width="1"/>
<text transform="translate(1151.8,651.4) rotate(-27.5)" font-family="&quot;Liberation Sans&quot;, sans-serif" font-size="36" fill="#000">PAM</text>
<path transform="translate(1224.5,613.556) rotate(-27.5)" d="M8,-9V-3.5H1.5M3.8,-6L1.2,-3.5L3.8,-1" fill="none" stroke="#8a8a8a" stroke-width="1"/>
<text transform="translate(327.7,739.4) rotate(4.5)" font-family="&quot;Liberation Sans&quot;, sans-serif" font-size="40" fill="#000">PAC</text>
<path transform="translate(408.429,745.753) rotate(4.5)" d="M8,-9V-3.5H1.5M3.8,-6L1.2,-3.5L3.8,-1" fill="none" stroke="#8a8a8a" stroke-width="1"/>
<text transform="translate(308,869.5) rotate(4.6)" font-family="&quot;Liberation Serif&quot;, &quot;Noto Serif CJK SC&quot;, serif" font-size="42" fill="#000">进水</text>
<path transform="translate(395.717,876.558) rotate(4.6)" d="M8,-9V-3.5H1.5M3.8,-6L1.2,-3.5L3.8,-1" fill="none" stroke="#8a8a8a" stroke-width="1"/>
<text transform="translate(1441,853.5) rotate(4.3)" font-family="&quot;Liberation Serif&quot;, &quot;Noto Serif CJK SC&quot;, serif" font-size="37" fill="#000">清水区</text>
<path transform="translate(1558.77,862.355) rotate(4.3)" d="M8,-9V-3.5H1.5M3.8,-6L1.2,-3.5L3.8,-1" fill="none" stroke="#8a8a8a" stroke-width="1"/>
<text transform="translate(1160,962.5) rotate(3)" font-family="&quot;Liberation Serif&quot;, &quot;Noto Serif CJK SC&quot;, serif" font-size="36" fill="#000">斜管出水区</text>
<path transform="translate(1346.74,972.287) rotate(3)" d="M8,-9V-3.5H1.5M3.8,-6L1.2,-3.5L3.8,-1" fill="none" stroke="#8a8a8a" stroke-width="1"/>
<text transform="translate(932,1533) rotate(4)" font-family="&quot;Liberation Serif&quot;, &quot;Noto Serif CJK SC&quot;, serif" font-size="35" fill="#000">出泥</text>
<path transform="translate(1004.82,1538.09) rotate(4)" d="M8,-9V-3.5H1.5M3.8,-6L1.2,-3.5L3.8,-1" fill="none" stroke="#8a8a8a" stroke-width="1"/>
<text transform="translate(472.5,1082) rotate(3)" font-family="&quot;Liberation Sans&quot;, &quot;Noto Sans CJK SC&quot;, sans-serif" font-size="34" fill="#0a0a0a">混</text>
<text transform="translate(514.5,1084.2) rotate(3)" font-family="&quot;Liberation Sans&quot;, &quot;Noto Sans CJK SC&quot;, sans-serif" font-size="34" fill="#0a0a0a">合</text>
<text transform="translate(589.5,1091) rotate(3)" font-family="&quot;Liberation Sans&quot;, &quot;Noto Sans CJK SC&quot;, sans-serif" font-size="34" fill="#0a0a0a">区</text>
<text transform="translate(558.5,1087.5) rotate(3)" font-family="&quot;Liberation Sans&quot;, &quot;Noto Sans CJK SC&quot;, sans-serif" font-size="36" font-weight="bold" fill="#0a0a0a">1</text>
<path transform="translate(622,1095) rotate(3)" d="M8,-9V-3.5H1.5M3.8,-6L1.2,-3.5L3.8,-1" fill="none" stroke="#8a8a8a" stroke-width="1"/>
<text transform="translate(654.5,1094) rotate(3)" font-family="&quot;Liberation Sans&quot;, &quot;Noto Sans CJK SC&quot;, sans-serif" font-size="34" fill="#0a0a0a">混</text>
<text transform="translate(695.5,1096.2) rotate(3)" font-family="&quot;Liberation Sans&quot;, &quot;Noto Sans CJK SC&quot;, sans-serif" font-size="34" fill="#0a0a0a">合</text>
<text transform="translate(760,1101.5) rotate(3)" font-family="&quot;Liberation Sans&quot;, &quot;Noto Sans CJK SC&quot;, sans-serif" font-size="34" fill="#0a0a0a">区</text>
<text transform="translate(733,1099.5) rotate(3)" font-family="&quot;Liberation Sans&quot;, &quot;Noto Sans CJK SC&quot;, sans-serif" font-size="36" font-weight="bold" fill="#0a0a0a">2</text>
<path transform="translate(793,1106) rotate(3)" d="M8,-9V-3.5H1.5M3.8,-6L1.2,-3.5L3.8,-1" fill="none" stroke="#8a8a8a" stroke-width="1"/>
<text transform="translate(825.5,1108) rotate(3)" font-family="&quot;Liberation Sans&quot;, &quot;Noto Sans CJK SC&quot;, sans-serif" font-size="34" fill="#0a0a0a">絮</text>
<text transform="translate(863,1110) rotate(3)" font-family="&quot;Liberation Sans&quot;, &quot;Noto Sans CJK SC&quot;, sans-serif" font-size="34" fill="#0a0a0a">凝</text>
<text transform="translate(901,1112) rotate(3)" font-family="&quot;Liberation Sans&quot;, &quot;Noto Sans CJK SC&quot;, sans-serif" font-size="34" fill="#0a0a0a">反</text>
<text transform="translate(940,1114) rotate(3)" font-family="&quot;Liberation Sans&quot;, &quot;Noto Sans CJK SC&quot;, sans-serif" font-size="34" fill="#0a0a0a">应</text>
<text transform="translate(979.5,1118) rotate(3)" font-family="&quot;Liberation Sans&quot;, &quot;Noto Sans CJK SC&quot;, sans-serif" font-size="34" fill="#0a0a0a">区</text>
<path transform="translate(1013,1122) rotate(3)" d="M8,-9V-3.5H1.5M3.8,-6L1.2,-3.5L3.8,-1" fill="none" stroke="#8a8a8a" stroke-width="1"/>
<text transform="translate(1456.5,1344.5) rotate(2.5)" font-family="&quot;Liberation Serif&quot;, &quot;Noto Serif CJK SC&quot;, serif" font-size="37.5" fill="#fff">污泥层</text>
<path transform="translate(1570.89,1349.49) rotate(2.5)" d="M8,-9V-3.5H1.5M3.8,-6L1.2,-3.5L3.8,-1" fill="none" stroke="#bbb" stroke-width="1"/>
<text transform="translate(1265,1533) rotate(2)" font-family="&quot;Liberation Serif&quot;, &quot;Noto Serif CJK SC&quot;, serif" font-size="37.5" fill="#fff">沉淀浓缩区</text>
<path transform="translate(1455.88,1539.67) rotate(2)" d="M8,-9V-3.5H1.5M3.8,-6L1.2,-3.5L3.8,-1" fill="none" stroke="#bbb" stroke-width="1"/>
<text transform="translate(577,1585)" font-family="&quot;Liberation Serif&quot;, &quot;Noto Serif CJK SC&quot;, serif" font-size="38" font-weight="bold" fill="#000">污泥回流泵</text>
<path transform="translate(769,1585)" d="M8,-9V-3.5H1.5M3.8,-6L1.2,-3.5L3.8,-1" fill="none" stroke="#8a8a8a" stroke-width="1"/>
<text transform="translate(198,1568)" font-family="&quot;Liberation Serif&quot;, &quot;Noto Serif CJK SC&quot;, serif" font-size="38" font-weight="bold" fill="#000">剩余污泥泵</text>
<path transform="translate(389,1568)" d="M8,-9V-3.5H1.5M3.8,-6L1.2,-3.5L3.8,-1" fill="none" stroke="#8a8a8a" stroke-width="1"/>
<text transform="translate(275.5,1378)" font-family="&quot;Liberation Serif&quot;, &quot;Noto Serif CJK SC&quot;, serif" font-size="38" font-weight="bold" fill="#000">高速剪切机</text>
<path transform="translate(466.5,1378)" d="M8,-9V-3.5H1.5M3.8,-6L1.2,-3.5L3.8,-1" fill="none" stroke="#8a8a8a" stroke-width="1"/>
<text transform="translate(657,1429) rotate(-90)" font-family="&quot;Liberation Serif&quot;, &quot;Noto Serif CJK SC&quot;, serif" font-size="36.5" font-weight="bold" fill="#000">污泥回流</text>
<path transform="translate(657,1280.2) rotate(-90)" d="M8,-9V-3.5H1.5M3.8,-6L1.2,-3.5L3.8,-1" fill="none" stroke="#8a8a8a" stroke-width="1"/>
<text transform="translate(224,1167) rotate(-90)" font-family="&quot;Liberation Serif&quot;, &quot;Noto Serif CJK SC&quot;, serif" font-size="38" font-weight="bold" fill="#000">剩余污泥</text>
<path transform="translate(224,1013) rotate(-90)" d="M8,-9V-3.5H1.5M3.8,-6L1.2,-3.5L3.8,-1" fill="none" stroke="#8a8a8a" stroke-width="1"/>
<clipPath id="cpOut"><rect x="1900" y="800" width="100.5" height="100"/></clipPath>
<g clip-path="url(#cpOut)">
<text transform="translate(1913,853) rotate(9)" font-family="&quot;Liberation Serif&quot;, &quot;Noto Serif CJK SC&quot;, serif" font-size="43.5" fill="#000">出水</text>
</g>
<path d="M2000,1000 h-3 v12 h3" fill="none" stroke="#999" stroke-width="1"/>
</svg>
</body></html>
